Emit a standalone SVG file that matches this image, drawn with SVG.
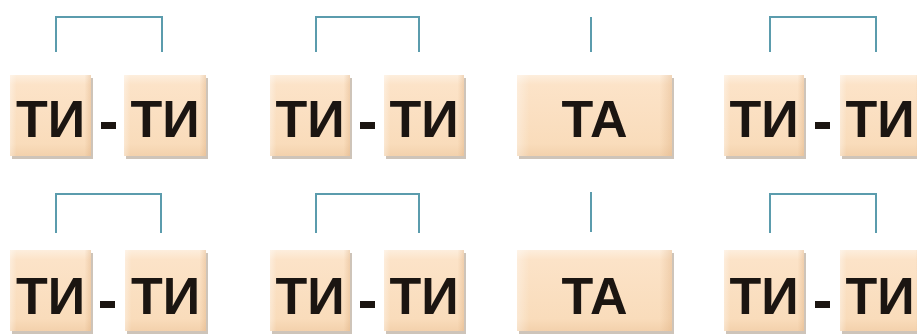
<svg xmlns="http://www.w3.org/2000/svg" width="917" height="334" viewBox="0 0 917 334">
<defs>
<linearGradient id="peach" x1="0" y1="0" x2="0" y2="1">
<stop offset="0" stop-color="#fdeedd"/>
<stop offset="0.12" stop-color="#fce3c8"/>
<stop offset="0.85" stop-color="#f9dcbb"/>
<stop offset="1" stop-color="#f3d1ac"/>
</linearGradient>
<linearGradient id="side" x1="0" y1="0" x2="1" y2="0">
<stop offset="0" stop-color="#ffffff" stop-opacity="0.35"/>
<stop offset="0.08" stop-color="#ffffff" stop-opacity="0"/>
<stop offset="0.92" stop-color="#d9a878" stop-opacity="0"/>
<stop offset="1" stop-color="#d9a878" stop-opacity="0.35"/>
</linearGradient>
</defs>
<style>
.shadow{fill:#b9ab9b;opacity:0.7}
.box{fill:url(#peach)}
.edge{fill:url(#side)}
.lbl{font-family:"Liberation Sans",Arial,sans-serif;font-weight:bold;font-size:52px;fill:#1b1511;text-anchor:middle}
.dash{fill:#1b1511}
.br{fill:none;stroke:#5b9cad;stroke-width:2}
</style>
<rect width="917" height="334" fill="#ffffff"/>
<g id="connectors">
<path class="br" d="M56 52V17H162V52"/>
<path class="br" d="M316 52V17H419V52"/>
<path class="br" d="M591 17V52"/>
<path class="br" d="M770 52V17H876V52"/>
<path class="br" d="M56 233V194H161V233"/>
<path class="br" d="M316 233V194H419V233"/>
<path class="br" d="M591 192V232"/>
<path class="br" d="M770 233V194H876V233"/>
</g>
<g id="r1-g1-a"><rect class="shadow" x="12" y="78" width="81" height="81"/><rect class="box" x="10" y="75" width="81" height="81"/><rect class="edge" x="10" y="75" width="81" height="81"/><text class="lbl" x="50.5" y="137">ТИ</text></g>
<g id="r1-g1-dash"><rect class="dash" x="101" y="122" width="15" height="7"/></g>
<g id="r1-g1-b"><rect class="shadow" x="126" y="78" width="82" height="81"/><rect class="box" x="124" y="75" width="82" height="81"/><rect class="edge" x="124" y="75" width="82" height="81"/><text class="lbl" x="165" y="137">ТИ</text></g>
<g id="r1-g2-a"><rect class="shadow" x="272" y="78" width="80" height="81"/><rect class="box" x="270" y="75" width="80" height="81"/><rect class="edge" x="270" y="75" width="80" height="81"/><text class="lbl" x="310" y="137">ТИ</text></g>
<g id="r1-g2-dash"><rect class="dash" x="360" y="122" width="15" height="7"/></g>
<g id="r1-g2-b"><rect class="shadow" x="386" y="78" width="80" height="81"/><rect class="box" x="384" y="75" width="80" height="81"/><rect class="edge" x="384" y="75" width="80" height="81"/><text class="lbl" x="424" y="137">ТИ</text></g>
<g id="r1-g3"><rect class="shadow" x="519" y="78" width="155" height="81"/><rect class="box" x="517" y="75" width="155" height="81"/><rect class="edge" x="517" y="75" width="155" height="81"/><text class="lbl" x="594.5" y="137">ТА</text></g>
<g id="r1-g4-a"><rect class="shadow" x="726" y="78" width="80" height="81"/><rect class="box" x="724" y="75" width="80" height="81"/><rect class="edge" x="724" y="75" width="80" height="81"/><text class="lbl" x="764" y="137">ТИ</text></g>
<g id="r1-g4-dash"><rect class="dash" x="815" y="122" width="15" height="7"/></g>
<g id="r1-g4-b"><rect class="shadow" x="842" y="78" width="82" height="81"/><rect class="box" x="840" y="75" width="82" height="81"/><rect class="edge" x="840" y="75" width="82" height="81"/><text class="lbl" x="880" y="137">ТИ</text></g>
<g id="r2-g1-a"><rect class="shadow" x="12" y="253" width="81" height="81"/><rect class="box" x="10" y="250" width="81" height="81"/><rect class="edge" x="10" y="250" width="81" height="81"/><text class="lbl" x="50.5" y="314">ТИ</text></g>
<g id="r2-g1-dash"><rect class="dash" x="100" y="301" width="15" height="7"/></g>
<g id="r2-g1-b"><rect class="shadow" x="127" y="253" width="81" height="81"/><rect class="box" x="125" y="250" width="81" height="81"/><rect class="edge" x="125" y="250" width="81" height="81"/><text class="lbl" x="165.5" y="314">ТИ</text></g>
<g id="r2-g2-a"><rect class="shadow" x="272" y="253" width="80" height="81"/><rect class="box" x="270" y="250" width="80" height="81"/><rect class="edge" x="270" y="250" width="80" height="81"/><text class="lbl" x="310" y="314">ТИ</text></g>
<g id="r2-g2-dash"><rect class="dash" x="360" y="301" width="15" height="7"/></g>
<g id="r2-g2-b"><rect class="shadow" x="386" y="253" width="80" height="81"/><rect class="box" x="384" y="250" width="80" height="81"/><rect class="edge" x="384" y="250" width="80" height="81"/><text class="lbl" x="424" y="314">ТИ</text></g>
<g id="r2-g3"><rect class="shadow" x="519" y="253" width="155" height="81"/><rect class="box" x="517" y="250" width="155" height="81"/><rect class="edge" x="517" y="250" width="155" height="81"/><text class="lbl" x="594.5" y="314">ТА</text></g>
<g id="r2-g4-a"><rect class="shadow" x="726" y="253" width="80" height="81"/><rect class="box" x="724" y="250" width="80" height="81"/><rect class="edge" x="724" y="250" width="80" height="81"/><text class="lbl" x="764" y="314">ТИ</text></g>
<g id="r2-g4-dash"><rect class="dash" x="815" y="301" width="15" height="7"/></g>
<g id="r2-g4-b"><rect class="shadow" x="842" y="253" width="82" height="81"/><rect class="box" x="840" y="250" width="82" height="81"/><rect class="edge" x="840" y="250" width="82" height="81"/><text class="lbl" x="880" y="314">ТИ</text></g>
</svg>
